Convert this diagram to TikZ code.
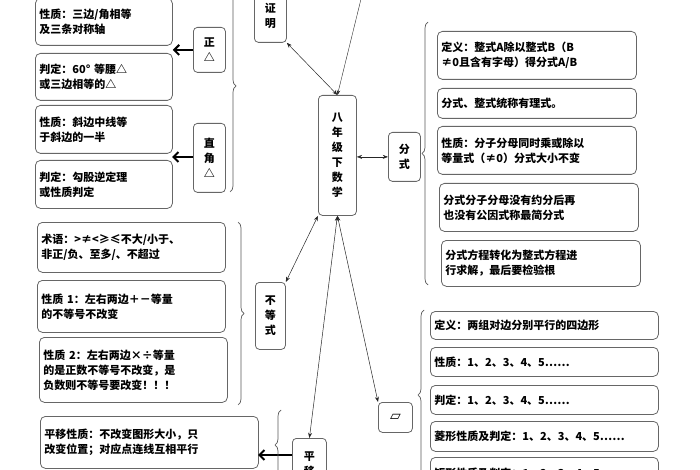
\documentclass[tikz,border=0pt]{standalone}
\usepackage{fontspec}
\setmainfont{Noto Sans CJK SC}
\newfontfamily\symfont{DejaVu Sans}
\usetikzlibrary{arrows.meta,decorations.pathreplacing}
\tikzset{
    every node/.style={align=left,font=\fontsize{11}{15}\selectfont\bfseries},
    item/.style={draw=gray!80!black,rounded corners=5pt,line width=0.8pt,anchor=north west,inner sep=4pt},
    topic/.style={draw=gray!80!black,rounded corners=4pt,line width=0.8pt,anchor=north west,align=center,inner sep=2pt},
    link/.style={Stealth-Stealth,gray!30!black,line width=0.5pt},
    fat/.style={-{Straight Barb[length=5pt,width=10pt]},line width=2pt},
    grp/.style={decorate,decoration={brace,amplitude=6pt},gray!70!black,line width=0.7pt},
}
\begin{document}
\begin{tikzpicture}[x=1pt,y=-1pt]
                \useasboundingbox (0,0) rectangle (700,470);
                \clip (0,0) rectangle (700,470);
                % centre
                \node[topic,minimum width=38pt,minimum height=120pt] (math) at (318,95) {八\\年\\级\\下\\数\\学};
                % left top
                \node[topic,minimum width=32pt,minimum height=52pt] (proof) at (254,-10) {证\\明};
                \node[topic,minimum width=32pt,minimum height=45pt] (equi) at (193,27) {正\\△};
                \node[topic,minimum width=32pt,minimum height=69pt] (right) at (193,123) {直\\角\\△};
                \node[item,text width=129pt,minimum height=47pt] (e1) at (35,-2) {性质：三边/角相等\\及三条对称轴};
                \node[item,text width=129pt,minimum height=47pt] (e2) at (35,53) {判定：60° 等腰△\\或三边相等的△};
                \node[item,text width=129pt,minimum height=48pt] (r1) at (35,105) {性质：斜边中线等\\于斜边的一半};
                \node[item,text width=129pt,minimum height=48pt] (r2) at (35,160) {判定：勾股逆定理\\或性质判定};
                \draw[fat] (equi.west) -- (e1.south east |- equi.west);
                \draw[fat] (right.west |- 0,157) -- (172,157);
                \draw[grp] (230,-20) -- (230,192);
                % fractions
                \node[topic,minimum width=32pt,minimum height=49pt] (frac) at (388,132) {分\\式};
                \node[item,minimum width=155pt,minimum height=25pt] (f0) at (445,-30) {};
                \node[item,text width=191pt,minimum height=48pt] (f1) at (437,31) {定义：整式A除以整式B（B\\≠0且含有字母）得分式A/B};
                \node[item,text width=191pt,minimum height=30pt] (f2) at (437,88) {分式、整式统称有理式。};
                \node[item,text width=191pt,minimum height=48pt] (f3) at (437,126) {性质：分子分母同时乘或除以\\等量式（≠0）分式大小不变};
                \node[item,text width=191pt,minimum height=48pt] (f4) at (439,183) {分式分子分母没有约分后再\\也没有公因式称最简分式};
                \node[item,text width=191pt,minimum height=46pt] (f5) at (441,240) {分式方程转化为整式方程进\\行求解，最后要检验根};
                \draw[grp] (428,285) -- (428,22);
                % inequalities
                \node[topic,minimum width=30pt,minimum height=67pt] (ineq) at (255,282) {不\\等\\式};
                \node[item,text width=180pt,minimum height=50pt] (i1) at (37,222) {术语：>≠<≥≤不大/小于、\\非正/负、至多/、不超过};
                \node[item,text width=180pt,minimum height=52pt] (i2) at (37,280) {性质 1：左右两边＋－等量\\的不等号不改变};
                \node[item,text width=180pt,minimum height=65pt] (i3) at (39,337) {性质 2：左右两边×÷等量\\的是正数不等号不改变，是\\负数则不等号要改变！！！};
                \draw[grp] (238,222) -- (238,405);
                % translation
                \node[topic,minimum width=34pt,minimum height=52pt] (shift) at (292,438) {平\\移};
                \node[item,text width=210pt,minimum height=52pt] (s1) at (40,416) {平移性质：不改变图形大小，只\\改变位置；对应点连线互相平行};
                \draw[fat] (shift.west |- 0,455) -- (258,455);
                \draw[grp] (281,480) -- (281,410);
                % parallelogram
                \node[topic,minimum width=34pt,minimum height=30pt] (para) at (378,402) {\symfont\fontsize{14}{14}\selectfont ▱};
                \node[item,text width=220pt,minimum height=28pt] (p1) at (430,311) {定义：两组对边分别平行的四边形};
                \node[item,text width=220pt,minimum height=29pt] (p2) at (430,347) {性质：1、2、3、4、5……};
                \node[item,text width=220pt,minimum height=29pt] (p3) at (430,385) {判定：1、2、3、4、5……};
                \node[item,text width=220pt,minimum height=30pt] (p4) at (430,421) {菱形性质及判定：1、2、3、4、5……};
                \node[item,text width=220pt,minimum height=32pt] (p5) at (430,457) {矩形性质及判定：1、2、3、4、5……};
                \draw[grp] (424,480) -- (424,310);
                % links
                \draw[link] (proof.south east) -- (math.north);
                \draw[-Stealth,gray!30!black] (362,-5) -- (math.north);
                \draw[link] (math.east |- frac.west) -- (frac.west);
                \draw[link] (math.south west) -- (ineq.north east);
                \draw[link] (math.south) -- (shift.north);
                \draw[link] (math.south) -- (para.north west);
            \end{tikzpicture}
\end{document}
